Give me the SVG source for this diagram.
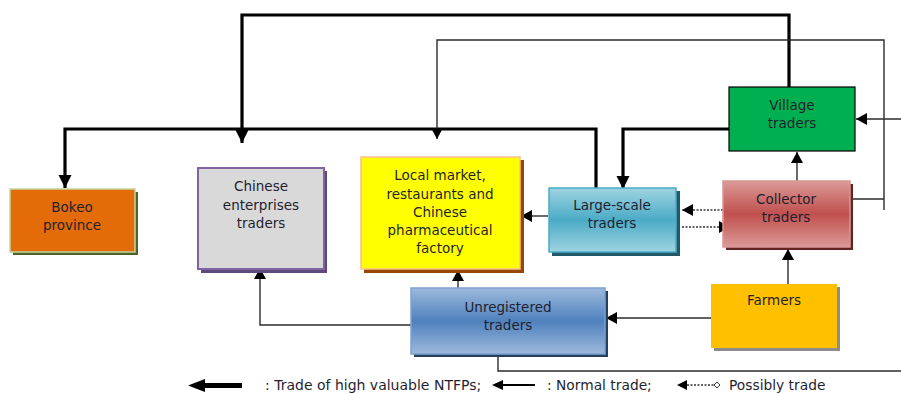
<svg xmlns="http://www.w3.org/2000/svg" width="901" height="394" viewBox="0 0 901 394">
<defs>
<style>
text{font-family:"DejaVu Sans","Verdana",sans-serif;font-size:13.5px;fill:#1f1f2f;text-anchor:middle}
.thin{fill:none;stroke:#2b2b2b;stroke-width:1.4}
.thick{fill:none;stroke:#000;stroke-width:3.2}
.dot{fill:none;stroke:#333;stroke-width:1.4;stroke-dasharray:2 1.5}
.lg{text-anchor:start}
</style>
<marker id="a" markerUnits="userSpaceOnUse" markerWidth="12" markerHeight="12" refX="11" refY="6" orient="auto"><path d="M0,0 L11,6 L0,12 z" fill="#000"/></marker>
<marker id="b" markerUnits="userSpaceOnUse" markerWidth="14" markerHeight="14" refX="13" refY="7" orient="auto"><path d="M0,0.5 L13,7 L0,13.5 z" fill="#000"/></marker>
<linearGradient id="gLS" x1="0" y1="0" x2="0" y2="1"><stop offset="0" stop-color="#9fd3e1"/><stop offset="0.5" stop-color="#4babc6"/><stop offset="1" stop-color="#9fd3e1"/></linearGradient>
<linearGradient id="gCT" x1="0" y1="0" x2="0" y2="1"><stop offset="0" stop-color="#dc9a98"/><stop offset="0.5" stop-color="#c0504d"/><stop offset="1" stop-color="#dc9a98"/></linearGradient>
<linearGradient id="gUT" x1="0" y1="0" x2="0" y2="1"><stop offset="0" stop-color="#9db9dc"/><stop offset="0.5" stop-color="#4f81bd"/><stop offset="1" stop-color="#9db9dc"/></linearGradient>
</defs>

<g id="connectors">
<polyline class="thick" points="789,87 789,15 242,15 242,143" marker-end="url(#b)"/>
<polyline class="thick" points="596,188 596,129 65,129 65,188" marker-end="url(#b)"/>
<polyline class="thick" points="729,129 623,129 623,189" marker-end="url(#b)"/>
<polyline class="thin" points="884,210 884,40 437,40 437,139" marker-end="url(#a)"/>
<line class="thin" x1="850" y1="199" x2="884" y2="199"/>
<line class="thin" x1="901" y1="119" x2="856" y2="119" marker-end="url(#a)"/>
<line class="thin" x1="797" y1="181" x2="797" y2="152" marker-end="url(#a)"/>
<line class="thin" x1="788" y1="284" x2="788" y2="249" marker-end="url(#a)"/>
<line class="thin" x1="711" y1="318" x2="606" y2="318" marker-end="url(#a)"/>
<line class="thin" x1="458" y1="288" x2="458" y2="270" marker-end="url(#a)"/>
<polyline class="thin" points="411,325 260,325 260,268" marker-end="url(#a)"/>
<polyline class="thin" points="498,355 498,371 901,371"/>
<line class="thin" x1="548" y1="216" x2="521" y2="216" marker-end="url(#a)"/>
<line class="dot" x1="730" y1="210" x2="682" y2="210" marker-end="url(#a)"/>
<line class="dot" x1="682" y1="227" x2="730" y2="227" marker-end="url(#a)"/>
</g>

<g id="bokeo">
<rect x="13" y="192" width="125" height="63" fill="#4f6228"/>
<rect x="10" y="189" width="125" height="63" fill="#e36c09" stroke="#c3d69b" stroke-width="1.5"/>
<text x="72" y="212">Bokeo</text>
<text x="72" y="230">province</text>
</g>

<g id="chinese">
<rect x="201" y="171" width="126" height="102" fill="#5f497a"/>
<rect x="198" y="168" width="126" height="101" fill="#d9d9d9" stroke="#8064a2" stroke-width="2"/>
<text x="261" y="191">Chinese</text>
<text x="261" y="210">enterprises</text>
<text x="261" y="228">traders</text>
</g>

<g id="local">
<rect x="364" y="160" width="160" height="113" fill="#974806"/>
<rect x="361" y="157" width="159" height="112" fill="#ffff00" stroke="#fac090" stroke-width="1.5"/>
<text x="440" y="180">Local market,</text>
<text x="440" y="198.5">restaurants and</text>
<text x="440" y="217">Chinese</text>
<text x="440" y="235">pharmaceutical</text>
<text x="440" y="253">factory</text>
</g>

<g id="largescale">
<rect x="552" y="191" width="128" height="65" fill="#215968"/>
<rect x="549" y="188" width="127" height="64" fill="url(#gLS)" stroke="#4bacc6" stroke-width="1.5"/>
<text x="612" y="210">Large-scale</text>
<text x="612" y="228">traders</text>
</g>

<g id="collector">
<rect x="726" y="184" width="127" height="66" fill="#632423"/>
<rect x="723" y="181" width="127" height="66" fill="url(#gCT)" stroke="#d99694" stroke-width="1.5"/>
<text x="786" y="204">Collector</text>
<text x="786" y="222">traders</text>
</g>

<g id="village">
<rect x="729" y="87" width="126" height="64" fill="#00b050" stroke="#000" stroke-width="1.2"/>
<text x="792" y="110">Village</text>
<text x="792" y="128">traders</text>
</g>

<g id="farmers">
<rect x="714" y="287" width="126" height="64" fill="#8c8c8c"/>
<rect x="711" y="284" width="126" height="64" fill="#ffc000"/>
<text x="774" y="305">Farmers</text>
</g>

<g id="unregistered">
<rect x="414" y="291" width="194" height="66" fill="#244061"/>
<rect x="411" y="288" width="194" height="66" fill="url(#gUT)" stroke="#7fa1cf" stroke-width="1.5"/>
<text x="508" y="312">Unregistered</text>
<text x="508" y="330">traders</text>
</g>

<g id="legend">
<polygon points="188,385.5 205,379 205,383 242,383 242,388 205,388 205,392" fill="#000"/>
<text class="lg" x="265" y="390" style="font-size:14px">:  Trade of high valuable NTFPs;</text>
<line x1="498" y1="385" x2="535" y2="385" stroke="#000" stroke-width="2"/>
<polygon points="492,385 503,380 503,390" fill="#000"/>
<text class="lg" x="547" y="390" style="font-size:13.8px">: Normal trade;</text>
<polygon points="677,385 687,380 687,390" fill="#000"/>
<line x1="687" y1="385" x2="714" y2="385" stroke="#333" stroke-width="1.4" stroke-dasharray="2 1.5"/>
<polygon points="714,385 717,382 720,385 717,388" fill="#fff" stroke="#333" stroke-width="1"/>
<text class="lg" x="729" y="390" style="font-size:13.8px">Possibly trade</text>
</g>
</svg>
